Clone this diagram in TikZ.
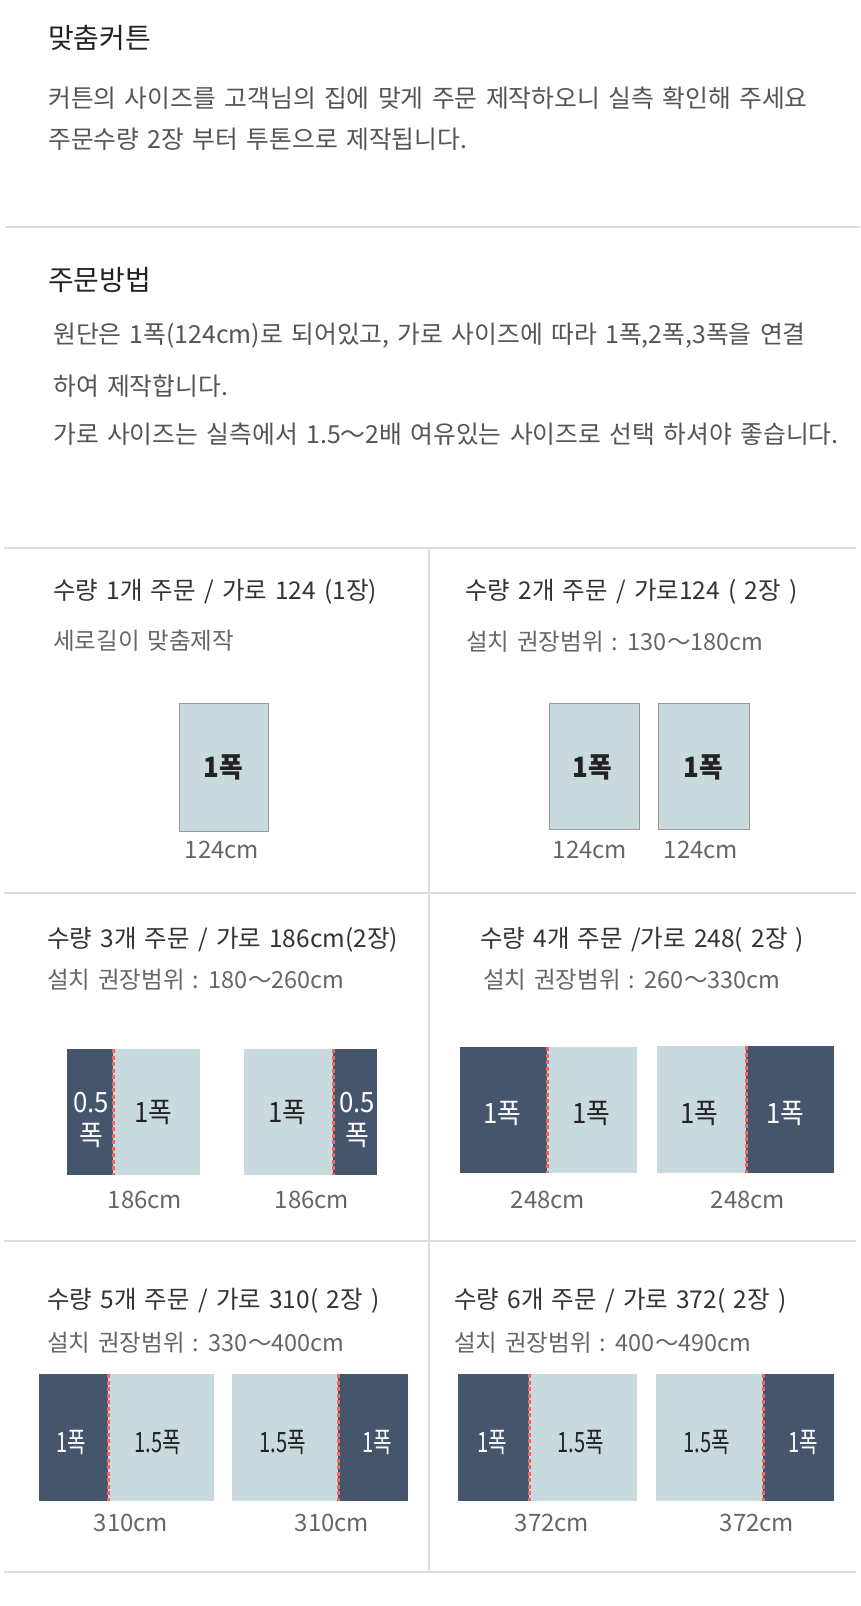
\documentclass[tikz,border=0pt]{standalone}
\usepackage{fontspec}
\setmainfont{Noto Sans CJK KR}[WordSpace=1.5]
\newcommand\fsz[1]{\fontsize{#1}{#1}\selectfont}
\definecolor{lb}{HTML}{C8DADE}
\definecolor{dk}{HTML}{45556C}
\definecolor{seamred}{HTML}{F26660}
\definecolor{rulegray}{HTML}{DDDDDD}
\definecolor{bordergray}{HTML}{999999}
\definecolor{ink}{HTML}{222222}
\definecolor{txt}{HTML}{555555}
\definecolor{ctxt}{HTML}{333333}
\definecolor{stxt}{HTML}{666666}
\tikzset{
 hd/.style={anchor=west, inner sep=0, text=ink, font=\fsz{28}},
 bodytxt/.style={anchor=west, inner sep=0, text=txt, font=\fsz{24.8}},
 ctitle/.style={anchor=west, inner sep=0, text=ctxt, font=\fsz{24.5}},
 csub/.style={anchor=west, inner sep=0, text=stxt, font=\fsz{23.5}},
 dimtxt/.style={inner sep=0, text=stxt, font=\fsz{24}},
 lbl/.style={inner sep=0, text=ink, font=\fsz{28}},
 lblw/.style={lbl, text=white},
 lblb/.style={inner sep=0, text=ink, font=\fsz{28}\bfseries},
 rulec/.style={draw=rulegray, line width=2pt},
 seam/.style={draw=seamred, line width=3pt, dash pattern=on 4pt off 2.5pt},
 boxed/.style={draw=bordergray, fill=lb, line width=1pt},
}
\newcommand\cond[1]{\scalebox{0.72}[1]{#1}}
\newcommand\mcond[1]{\scalebox{0.92}[1]{#1}}
\begin{document}
\begin{tikzpicture}[x=1pt, y=-1pt]
\useasboundingbox[fill=white] (0,0) rectangle (860,1606);

% header
\node[hd] (t1) at (48,38) {맞춤커튼};
\node[bodytxt] (b1) at (48,98) {커튼의 사이즈를 고객님의 집에 맞게 주문 제작하오니 실측 확인해 주세요};
\node[bodytxt] (b2) at (48,139) {주문수량 2장 부터 투톤으로 제작됩니다.};
\draw[rulec] (5,227) -- (860,227);
\node[hd] (t2) at (48,280) {주문방법};
\node[bodytxt] (b3) at (53,336) {원단은 1폭(124cm)로 되어있고, 가로 사이즈에 따라 1폭,2폭,3폭을 연결};
\node[bodytxt] (b4) at (53,386) {하여 제작합니다.};
\node[bodytxt] (b5) at (53,434) {가로 사이즈는 실측에서 1.5～2배 여유있는 사이즈로 선택 하셔야 좋습니다.};

% grid
\draw[rulec] (4,548) -- (856,548);
\draw[rulec] (4,893) -- (856,893);
\draw[rulec] (4,1241) -- (856,1241);
\draw[rulec] (4,1572) -- (856,1572);
\draw[rulec] (429,548) -- (429,1572);

% cell 1
\node[ctitle] (c1t) at (53,592) {수량 1개 주문 / 가로 124 (1장)};
\node[csub] (c1s) at (53,641) {세로길이 맞춤제작};
\draw[boxed] (179,703) rectangle (268,831);
\node[lblb] (c1l) at (223.5,767) {\mcond{1폭}};
\node[dimtxt] (c1d) at (222,850) {124cm};

% cell 2
\node[ctitle] (c2t) at (465,592) {수량 2개 주문 / 가로124 ( 2장 )};
\node[csub] (c2s) at (466,642) {설치 권장범위 : 130～180cm};
\draw[boxed] (549,703) rectangle (639,829);
\draw[boxed] (658,703) rectangle (749,829);
\node[lblb] (c2l1) at (592,767) {\mcond{1폭}};
\node[lblb] (c2l2) at (703,767) {\mcond{1폭}};
\node[dimtxt] (c2d1) at (590,850) {124cm};
\node[dimtxt] (c2d2) at (701,850) {124cm};

% cell 3
\node[ctitle] (c3t) at (47,940) {수량 3개 주문 / 가로 186cm(2장)};
\node[csub] (c3s) at (47,980) {설치 권장범위 : 180～260cm};
\fill[lb] (67,1049) rectangle (200,1175);
\fill[dk] (67,1049) rectangle (113,1175);
\draw[seam] (113,1049) -- (113,1175);
\fill[lb] (244,1049) rectangle (377,1175);
\fill[dk] (333,1049) rectangle (377,1175);
\draw[seam] (333,1049) -- (333,1175);
\node[lblw] (c3a1) at (91,1103) {\mcond{0.5}};
\node[lblw] (c3a2) at (91,1135) {\mcond{폭}};
\node[lbl] (c3b) at (153,1112) {\mcond{1폭}};
\node[lbl] (c3c) at (287,1112) {\mcond{1폭}};
\node[lblw] (c3d1) at (357,1103) {\mcond{0.5}};
\node[lblw] (c3d2) at (357,1135) {\mcond{폭}};
\node[dimtxt] (c3e1) at (145,1200) {186cm};
\node[dimtxt] (c3e2) at (312,1200) {186cm};

% cell 4
\node[ctitle] (c4t) at (480,940) {수량 4개 주문 /가로 248( 2장 )};
\node[csub] (c4s) at (483,980) {설치 권장범위 : 260～330cm};
\fill[lb] (460,1047) rectangle (637,1173);
\fill[dk] (460,1047) rectangle (547,1173);
\draw[seam] (547,1047) -- (547,1173);
\fill[lb] (657,1046) rectangle (834,1173);
\fill[dk] (746,1046) rectangle (834,1173);
\draw[seam] (746,1046) -- (746,1173);
\node[lblw] (c4a) at (502,1113) {\mcond{1폭}};
\node[lbl] (c4b) at (591,1113) {\mcond{1폭}};
\node[lbl] (c4c) at (699,1113) {\mcond{1폭}};
\node[lblw] (c4d) at (785,1113) {\mcond{1폭}};
\node[dimtxt] (c4e1) at (548,1200) {248cm};
\node[dimtxt] (c4e2) at (748,1200) {248cm};

% cell 5
\node[ctitle] (c5t) at (47,1301) {수량 5개 주문 / 가로 310( 2장 )};
\node[csub] (c5s) at (47,1343) {설치 권장범위 : 330～400cm};
\fill[lb] (39,1374) rectangle (214,1501);
\fill[dk] (39,1374) rectangle (108,1501);
\draw[seam] (108,1374) -- (108,1501);
\fill[lb] (232,1374) rectangle (408,1501);
\fill[dk] (338,1374) rectangle (408,1501);
\draw[seam] (338,1374) -- (338,1501);
\node[lblw] (c5a) at (71,1442) {\cond{1폭}};
\node[lbl] (c5b) at (158,1442) {\cond{1.5폭}};
\node[lbl] (c5c) at (283,1442) {\cond{1.5폭}};
\node[lblw] (c5d) at (377,1442) {\cond{1폭}};
\node[dimtxt] (c5e1) at (131,1523) {310cm};
\node[dimtxt] (c5e2) at (332,1523) {310cm};

% cell 6
\node[ctitle] (c6t) at (454,1301) {수량 6개 주문 / 가로 372( 2장 )};
\node[csub] (c6s) at (454,1343) {설치 권장범위 : 400～490cm};
\fill[lb] (458,1374) rectangle (637,1501);
\fill[dk] (458,1374) rectangle (529,1501);
\draw[seam] (529,1374) -- (529,1501);
\fill[lb] (656,1374) rectangle (834,1501);
\fill[dk] (763,1374) rectangle (834,1501);
\draw[seam] (763,1374) -- (763,1501);
\node[lblw] (c6a) at (492,1442) {\cond{1폭}};
\node[lbl] (c6b) at (581,1442) {\cond{1.5폭}};
\node[lbl] (c6c) at (707,1442) {\cond{1.5폭}};
\node[lblw] (c6d) at (803,1442) {\cond{1폭}};
\node[dimtxt] (c6e1) at (552,1523) {372cm};
\node[dimtxt] (c6e2) at (757,1523) {372cm};
\end{tikzpicture}
\end{document}
